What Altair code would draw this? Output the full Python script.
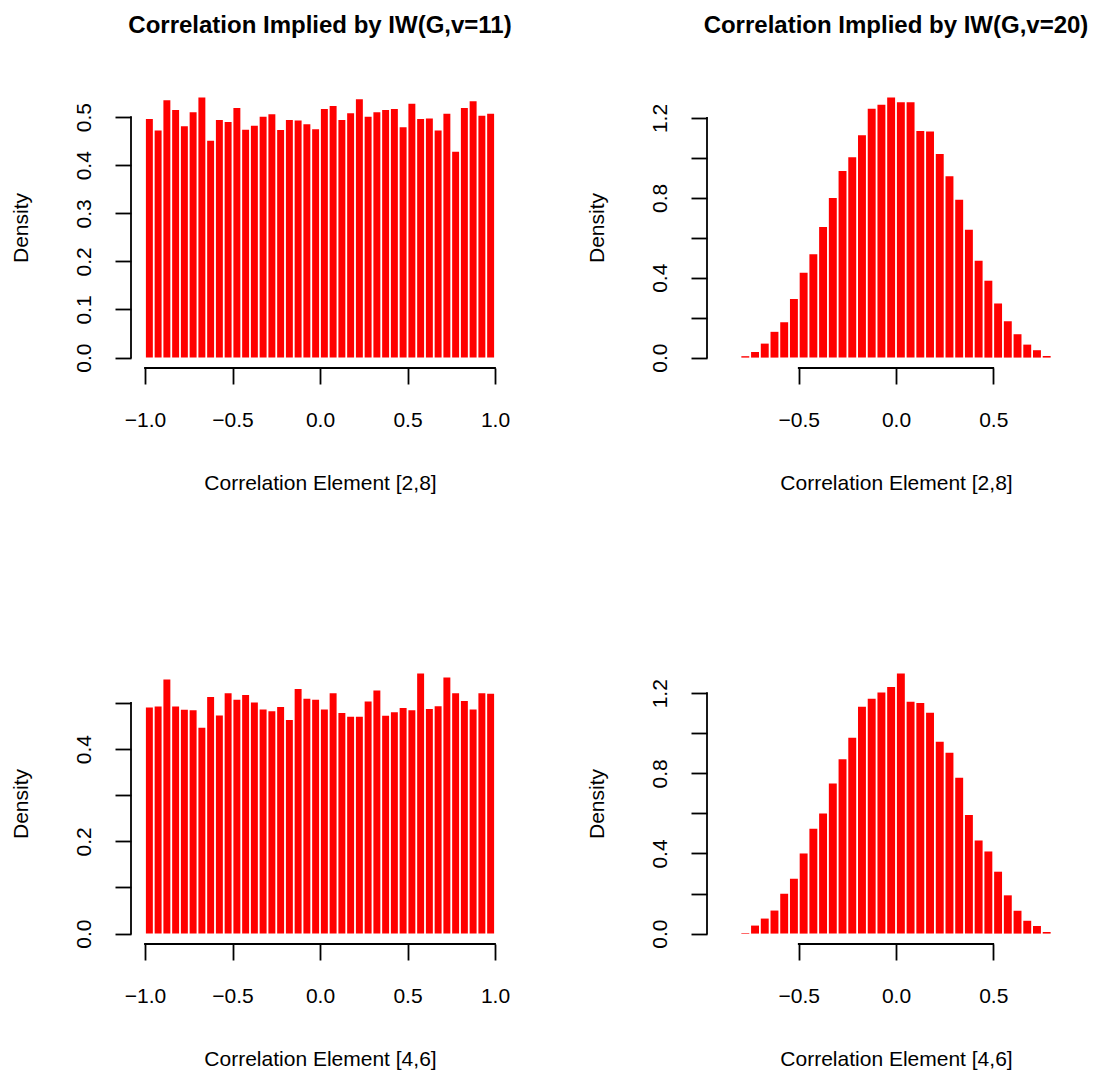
import altair as alt
import pandas as pd

# ---- data ----
edges_full = [round(-1.0 + 0.05 * i, 2) for i in range(41)]     # 40 bins, -1 .. 1
edges_mid = [round(-0.8 + 0.05 * i, 2) for i in range(33)]      # 32 bins, -0.8 .. 0.8

dens_v11_28 = [0.496, 0.472, 0.535, 0.515, 0.481, 0.510, 0.541, 0.451, 0.494, 0.490,
               0.519, 0.474, 0.482, 0.501, 0.506, 0.473, 0.494, 0.493, 0.485, 0.475,
               0.517, 0.523, 0.494, 0.508, 0.537, 0.501, 0.510, 0.515, 0.517, 0.479,
               0.528, 0.496, 0.497, 0.472, 0.507, 0.428, 0.519, 0.533, 0.503, 0.507]

dens_v20_28 = [0.007, 0.028, 0.070, 0.129, 0.177, 0.293, 0.425, 0.518, 0.654, 0.799,
               0.935, 1.003, 1.114, 1.246, 1.266, 1.303, 1.279, 1.279, 1.135, 1.132,
               1.020, 0.908, 0.791, 0.640, 0.485, 0.385, 0.271, 0.182, 0.117, 0.065,
               0.037, 0.008]

dens_v11_46 = [0.490, 0.492, 0.551, 0.492, 0.485, 0.484, 0.446, 0.513, 0.473, 0.521,
               0.507, 0.517, 0.501, 0.486, 0.482, 0.491, 0.463, 0.530, 0.509, 0.507,
               0.486, 0.521, 0.478, 0.470, 0.470, 0.503, 0.527, 0.472, 0.480, 0.489,
               0.484, 0.564, 0.487, 0.493, 0.555, 0.521, 0.504, 0.486, 0.521, 0.520]

dens_v20_46 = [0.003, 0.040, 0.075, 0.115, 0.199, 0.274, 0.400, 0.523, 0.599, 0.749,
               0.871, 0.978, 1.132, 1.172, 1.204, 1.231, 1.299, 1.157, 1.151, 1.102,
               0.958, 0.903, 0.778, 0.592, 0.465, 0.410, 0.309, 0.191, 0.114, 0.064,
               0.038, 0.008]

titles = ["Correlation Implied by IW(G,v=11)", "Correlation Implied by IW(G,v=20)"]
xlabels = ["Correlation Element [2,8]", "Correlation Element [4,6]"]

xticks_full = [-1.0, -0.5, 0.0, 0.5, 1.0]
xticks_mid = [-0.5, 0.0, 0.5]
yticks_small = [0.0, 0.1, 0.2, 0.3, 0.4, 0.5]
yticks_big = [0.0, 0.2, 0.4, 0.6, 0.8, 1.0, 1.2]

FONT = "Liberation Sans"
AXW = 1.8


def panel(dens, edges, title, xlab, xdom, xticks, yticks, label_expr, show_title):
    df = pd.DataFrame({"lo": edges[:-1], "hi": edges[1:], "density": dens})
    ymax = max(dens)
    ydom = [-0.04 * ymax, 1.04 * ymax]
    xs = alt.Scale(domain=xdom, nice=False, zero=False)
    ys = alt.Scale(domain=ydom, nice=False, zero=False)

    xaxis = alt.Axis(values=xticks, format=".1f", title=xlab, labelBaseline="middle",
                     labelPadding=36, titleY=115, titleBaseline="middle")
    yaxis = alt.Axis(values=yticks, format=".1f", title="Density", labelAngle=270,
                     labelAlign="center", labelBaseline="middle", labelPadding=31,
                     titleX=-110, titleBaseline="middle", titleAngle=270,
                     labelExpr=label_expr)

    bars = alt.Chart(df).mark_rect(color="#FF0000", xOffset=0.9, x2Offset=-0.9).encode(
        x=alt.X("lo:Q", scale=xs, axis=xaxis),
        x2="hi:Q",
        y=alt.Y("density:Q", scale=ys, axis=yaxis),
        y2=alt.datum(0),
    )

    xline_df = pd.DataFrame({"a": [xticks[0]], "b": [xticks[-1]], "y": [ydom[0]]})
    xline = alt.Chart(xline_df).mark_rule(color="black", strokeWidth=AXW, strokeCap="square").encode(
        x=alt.X("a:Q", scale=xs, axis=xaxis), x2="b:Q", y=alt.Y("y:Q", scale=ys, axis=yaxis))

    yline_df = pd.DataFrame({"x": [xdom[0]], "a": [yticks[0]], "b": [yticks[-1]]})
    yline = alt.Chart(yline_df).mark_rule(color="black", strokeWidth=AXW, strokeCap="square").encode(
        x=alt.X("x:Q", scale=xs, axis=xaxis), y=alt.Y("a:Q", scale=ys, axis=yaxis), y2="b:Q")

    layered = alt.layer(bars, xline, yline).properties(width=378, height=281)
    if show_title:
        layered = layered.properties(
            title=alt.TitleParams(title, fontSize=24, fontWeight="bold", font=FONT,
                                  anchor="middle", baseline="alphabetic", offset=30, color="black"))
    return layered


lab_all = "datum.label"
lab_even = "round(datum.value * 10) % 2 == 0 ? datum.label : ''"
lab_four = "round(datum.value * 10) % 4 == 0 ? datum.label : ''"

p1 = panel(dens_v11_28, edges_full, titles[0], xlabels[0], [-1.08, 1.08], xticks_full, yticks_small, lab_all, True)
p2 = panel(dens_v20_28, edges_mid, titles[1], xlabels[0], [-0.972, 0.972], xticks_mid, yticks_big, lab_four, True)
p3 = panel(dens_v11_46, edges_full, titles[0], xlabels[1], [-1.08, 1.08], xticks_full, yticks_small, lab_even, False)
p4 = panel(dens_v20_46, edges_mid, titles[1], xlabels[1], [-0.972, 0.972], xticks_mid, yticks_big, lab_four, False)

chart = alt.concat(p1, p2, p3, p4, columns=2, spacing={"row": 295, "column": 198}, bounds="flush").properties(
    padding={"left": 10, "top": 14, "right": 5, "bottom": 5},
    background="white",
).configure_view(stroke=None).configure_axis(
    domain=False, grid=False, tickColor="black", tickSize=16, tickWidth=AXW,
    labelColor="black", titleColor="black", labelFont=FONT, titleFont=FONT,
    labelFontSize=21, titleFontSize=21, titleFontWeight="normal",
    labelOverlap=False, labelFlush=False, labelBound=False,
)

chart.save("out.html", embed_options={"renderer": "svg", "actions": False})
